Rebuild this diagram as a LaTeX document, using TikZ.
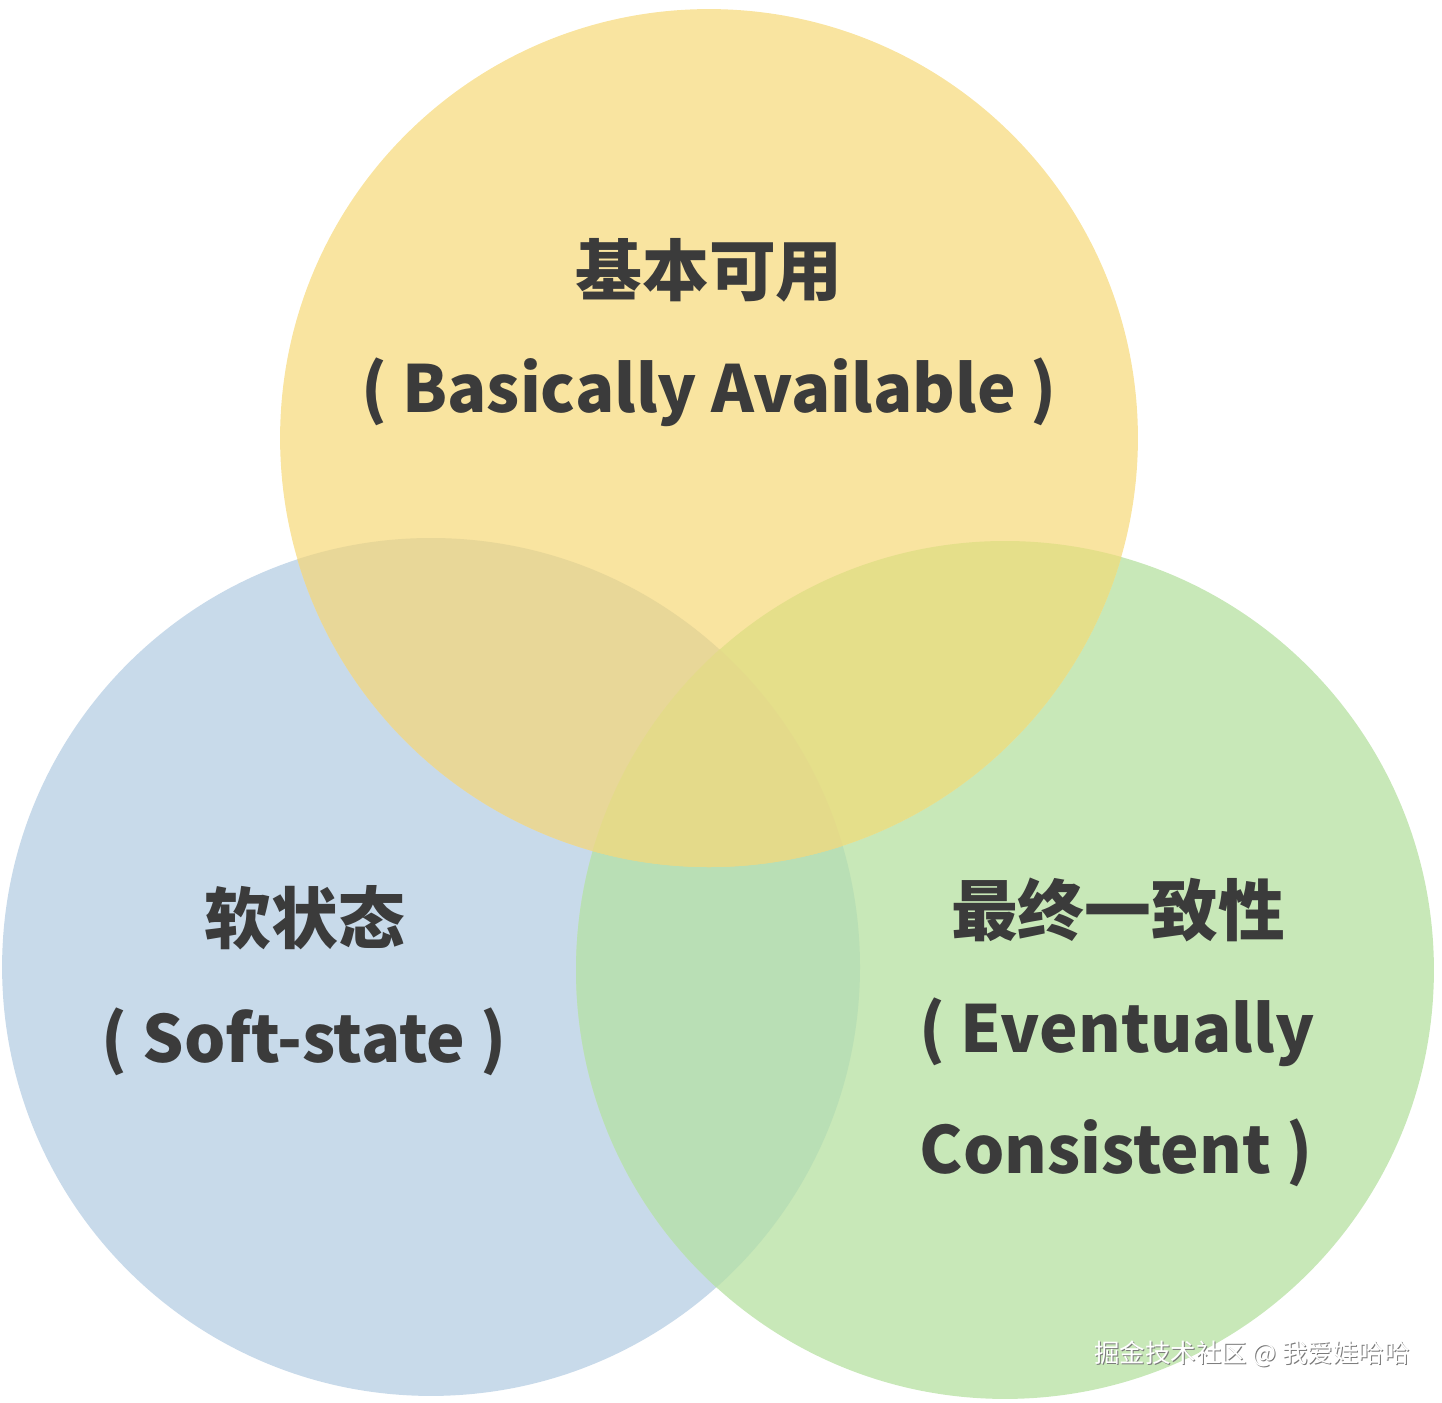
\documentclass[tikz,border=0pt]{standalone}
\usepackage{fontspec}
\setmainfont{Noto Sans CJK SC}
\definecolor{availfill}{HTML}{F9E4A0}
\definecolor{softfill}{HTML}{C8DAEA}
\definecolor{eventfill}{HTML}{C8E8B8}
\definecolor{availsoft}{HTML}{E8D798}
\definecolor{availevent}{HTML}{E5DF8A}
\definecolor{softevent}{HTML}{B9DFB5}
\definecolor{allthree}{HTML}{E4DA8A}
\definecolor{darktext}{HTML}{3B3B3B}
\definecolor{markshade}{HTML}{7A7A7A}
\tikzset{
  setdisc/.style={circle, inner sep=0pt, minimum size=17.16cm},
  bigtext/.style={font=\fontsize{38pt}{46pt}\selectfont\bfseries, text=darktext,
                  inner sep=0pt, align=center},
  engtext/.style={bigtext, font=\fontsize{37pt}{45pt}\selectfont\bfseries},
  watermark/.style={font=\fontsize{14.5pt}{17pt}\selectfont, inner sep=0pt},
}
\def\rdisc{429}

\begin{document}
\begin{tikzpicture}[x=0.02cm, y=-0.02cm]
\useasboundingbox (0,0) rectangle (1442,1402);

% Three sets
\node[setdisc, fill=softfill]  (soft)  at (431,967)  {};
\node[setdisc, fill=eventfill] (event) at (1005,970) {};
\node[setdisc, fill=availfill] (avail) at (709,438)  {};

% Overlaps, painted with their own colours
\begin{scope}
  \clip (soft.center) circle[radius=\rdisc];
  \fill[softevent] (event.center) circle[radius=\rdisc];
  \fill[availsoft] (avail.center) circle[radius=\rdisc];
\end{scope}
\begin{scope}
  \clip (event.center) circle[radius=\rdisc];
  \fill[availevent] (avail.center) circle[radius=\rdisc];
\end{scope}
\begin{scope}
  \clip (soft.center) circle[radius=\rdisc];
  \clip (event.center) circle[radius=\rdisc];
  \fill[allthree] (avail.center) circle[radius=\rdisc];
\end{scope}

% Labels
\node[bigtext] (availzh) at (709,270)  {基本可用};
\node[engtext] (availen) at (709,392)  {( Basically Available )};
\node[bigtext] (softzh)  at (305,918)  {软状态};
\node[engtext] (soften)  at (304,1042) {( Soft-state )};
\node[bigtext] (eventzh) at (1118,910) {最终一致性};
\node[engtext] (eventen) at (1117,1032) {( Eventually};
\node[engtext] (eventcn) at (1116,1153) {Consistent )};

% Watermark
\node[watermark, text=markshade] (markshade) at (1253,1355) {掘金技术社区 @ 我爱娃哈哈};
\node[watermark, text=white]     (marktext)  at (1252,1354) {掘金技术社区 @ 我爱娃哈哈};

\end{tikzpicture}
\end{document}
